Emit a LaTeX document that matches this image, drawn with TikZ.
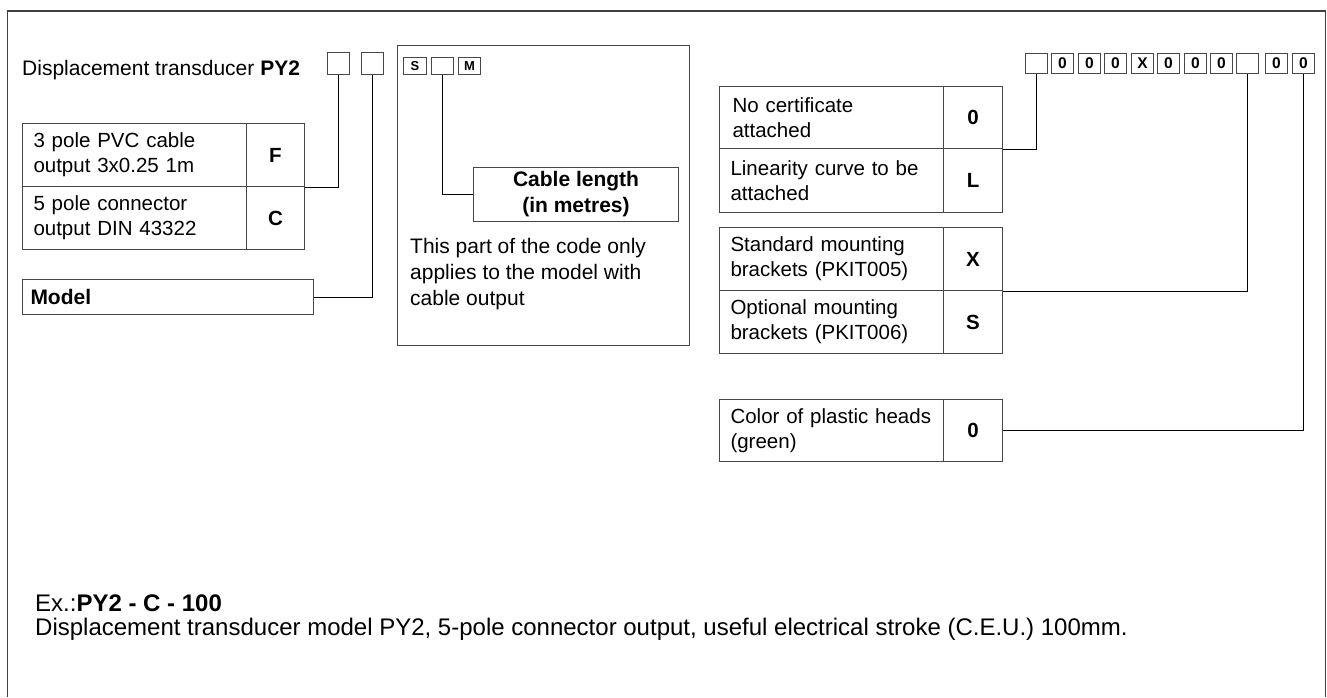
\documentclass[tikz,border=0pt]{standalone}
\usepackage{fontspec}
\setmainfont{Liberation Sans}
\begin{document}
\begin{tikzpicture}[x=1pt,y=-1pt,
  box/.style={draw=black!72, line width=1pt, inner sep=0pt, anchor=north west},
  txt/.style={font=\fontsize{20.5}{25}\selectfont},
  bigtxt/.style={font=\fontsize{21}{26}\selectfont},
  cell/.style={box, txt, text width=#1, align=left, inner xsep=11pt},
  code/.style={box, txt, font=\fontsize{20.5}{25}\selectfont\bfseries, minimum width=#1},
  sq/.style={box, minimum width=22pt, minimum height=20pt, font=\fontsize{15.5}{16}\selectfont\bfseries},
  sm/.style={box, minimum width=22pt, minimum height=17pt, font=\fontsize{13}{13}\selectfont\bfseries},
  conn/.style={draw=black, line width=1pt},
  lbl/.style={inner sep=0pt, anchor=base west}]
\useasboundingbox (0,0) rectangle (1327,697);
% outer frame (open at the bottom)
\draw[black!75, line width=1.5pt] (7.5,697) -- (7.5,11) -- (1325.5,11) -- (1325.5,697);

% header text and code boxes
\node[lbl, bigtxt] (title) at (22,75) {Displacement transducer \textbf{PY2}};
\node[box, minimum width=22pt, minimum height=22pt] (l1) at (327,52) {};
\node[box, minimum width=22pt, minimum height=22pt] (l2) at (361,52) {};

% output table
\node[cell=202pt, minimum height=63pt] (t1a) at (22,123) {3 pole PVC cable\\output 3x0.25 1m};
\node[code=58pt, minimum height=63pt] (t1b) at (246,123) {F};
\node[cell=202pt, minimum height=63pt] (t1c) at (22,186) {5 pole connector\\output DIN 43322};
\node[code=58pt, minimum height=63pt] (t1d) at (246,186) {C};

% model box
\node[box, font=\fontsize{21}{25}\selectfont\bfseries, text width=275pt, align=left, inner xsep=8pt, minimum height=35pt] (model) at (22,279) {Model};

% cable part
\node[box, minimum width=292pt, minimum height=300pt] (cablepart) at (397,45) {};
\node[sm, minimum width=23pt] (ms) at (403,57) {S};
\node[sm] (m2) at (431,57) {};
\node[sm] (mm) at (458,57) {M};
\node[box, font=\fontsize{21}{26}\selectfont\bfseries, minimum width=205pt, minimum height=54pt, align=center] (cable) at (473,167) {Cable length\\(in metres)};
\node[lbl, bigtxt] (n1) at (410,253) {This part of the code only};
\node[lbl, bigtxt] (n2) at (410,279) {applies to the model with};
\node[lbl, bigtxt] (n3) at (410,305) {cable output};

% right code boxes
\node[sq] (r0) at (1025,53) {};
\node[sq] (r1) at (1051,53) {0};
\node[sq] (r2) at (1078,53) {0};
\node[sq] (r3) at (1104,53) {0};
\node[sq] (r4) at (1131,53) {X};
\node[sq] (r5) at (1157,53) {0};
\node[sq] (r6) at (1184,53) {0};
\node[sq] (r7) at (1210,53) {0};
\node[sq] (r8) at (1236,53) {};
\node[sq] (r9) at (1265,53) {0};
\node[sq] (r10) at (1292,53) {0};

% certificate table
\node[cell=202pt, minimum height=62pt] (t2a) at (719,86) {\hspace*{2pt}No certificate\\\hspace*{2pt}attached};
\node[code=59pt, minimum height=62pt] (t2b) at (943,86) {0};
\node[cell=202pt, minimum height=64pt] (t2c) at (719,148) {Linearity curve to be\\attached};
\node[code=59pt, minimum height=64pt] (t2d) at (943,148) {L};

% mounting table
\node[cell=202pt, minimum height=63pt] (t3a) at (719,227) {Standard mounting\\brackets (PKIT005)};
\node[code=59pt, minimum height=63pt] (t3b) at (943,227) {X};
\node[cell=202pt, minimum height=63pt] (t3c) at (719,290) {Optional mounting\\brackets (PKIT006)};
\node[code=59pt, minimum height=63pt] (t3d) at (943,290) {S};

% colour table
\node[cell=202pt, minimum height=62pt] (t4a) at (719,399) {Color of plastic heads\\(green)};
\node[code=59pt, minimum height=62pt] (t4b) at (943,399) {0};

% connectors
\draw[conn] (l1.south) |- (t1b.south east);
\draw[conn] (l2.south) |- (model.east);
\draw[conn] (m2.south) |- (cable.west);
\draw[conn] (r0.south) |- (t2b.south east);
\draw[conn] (r8.south) |- (t3b.south east);
\draw[conn] (r10.south) |- (t4b.east);

% example
\node[lbl, font=\fontsize{24}{28}\selectfont] (ex1) at (35,611) {Ex.:\textbf{PY2 - C - 100}};
\node[lbl, font=\fontsize{24}{28}\selectfont] (ex2) at (35,635) {Displacement transducer model PY2, 5-pole connector output, useful electrical stroke (C.E.U.) 100mm.};
\end{tikzpicture}
\end{document}
